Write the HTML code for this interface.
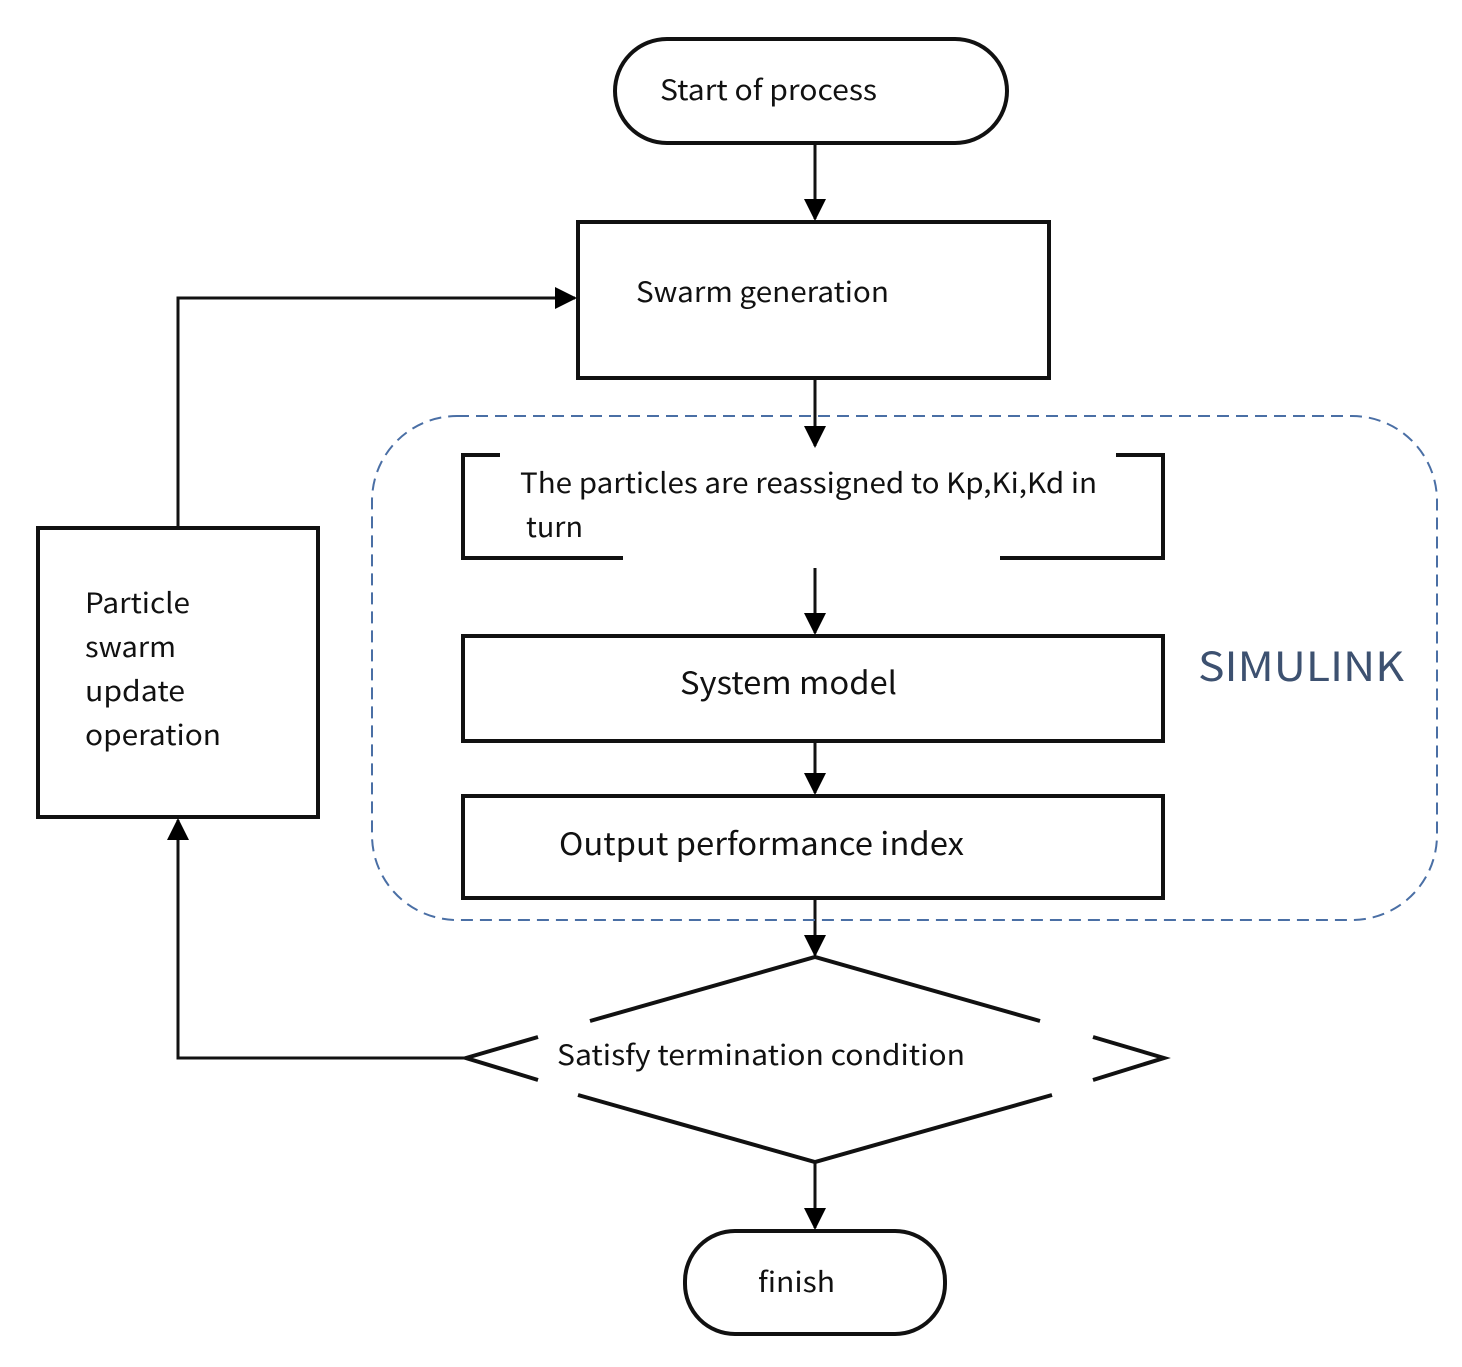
<!DOCTYPE html>
<html><head><meta charset="utf-8"><style>
html,body{margin:0;padding:0;background:#fff}
svg{display:block}
text{font-family:"Noto Sans CJK SC","Liberation Sans",sans-serif;fill:#111}
</style></head><body>
<svg width="1462" height="1367" viewBox="0 0 1462 1367" xmlns="http://www.w3.org/2000/svg">
<defs><marker id="a" markerWidth="12" markerHeight="12" refX="10" refY="6" orient="auto" markerUnits="userSpaceOnUse"><path d="M0,0 L12,6 L0,12 z" fill="#000"/></marker>
<marker id="b" markerWidth="22" markerHeight="24" refX="20" refY="11" orient="auto" markerUnits="userSpaceOnUse"><path d="M0,0 L22,11 L0,22 z" fill="#000"/></marker></defs>
<g fill="none" stroke="#111" stroke-width="4">
<rect x="615" y="39" width="392" height="104" rx="52"/>
<rect x="578" y="222" width="471" height="156"/>
<rect x="463" y="636" width="700" height="105"/>
<rect x="463" y="796" width="700" height="102"/>
<rect x="38" y="528" width="280" height="289"/>
<rect x="685" y="1231" width="260" height="103" rx="50"/>
<path d="M500,455 H463 V558 H623"/>
<path d="M1116,455 H1163 V558 H1000"/>
<path d="M590,1021 L815,957 L1040,1021"/>
<path d="M538,1037 L466,1058 L538,1080"/>
<path d="M1093,1037 L1164,1058 L1093,1080"/>
<path d="M578,1095 L815,1162 L1052,1095"/>
</g>
<g stroke="#111" stroke-width="3" fill="none">
<line x1="815" y1="143" x2="815" y2="219" marker-end="url(#b)"/>
<line x1="815" y1="378" x2="815" y2="446" marker-end="url(#b)"/>
<line x1="815" y1="568" x2="815" y2="633" marker-end="url(#b)"/>
<line x1="815" y1="741" x2="815" y2="793" marker-end="url(#b)"/>
<line x1="815" y1="898" x2="815" y2="955" marker-end="url(#b)"/>
<line x1="815" y1="1162" x2="815" y2="1228" marker-end="url(#b)"/>
<path d="M466,1058 H178 V820" marker-end="url(#b)"/>
<path d="M178,528 V298 H575" marker-end="url(#b)"/>
</g>
<rect x="372" y="416" width="1065" height="504" rx="85" fill="none" stroke="#4a6fa5" stroke-width="2" stroke-dasharray="12,7"/>
<g font-size="28">
<text x="660" y="100" textLength="217" lengthAdjust="spacingAndGlyphs">Start of process</text>
<text x="636" y="302" textLength="253" lengthAdjust="spacingAndGlyphs">Swarm generation</text>
<text x="520" y="493" textLength="577" lengthAdjust="spacingAndGlyphs">The particles are reassigned to Kp,Ki,Kd in</text>
<text x="526" y="537" textLength="57" lengthAdjust="spacingAndGlyphs">turn</text>
<text x="680" y="694" font-size="31" textLength="217" lengthAdjust="spacingAndGlyphs">System model</text>
<text x="559" y="855" font-size="31" textLength="405" lengthAdjust="spacingAndGlyphs">Output performance index</text>
<text x="557" y="1065" textLength="408" lengthAdjust="spacingAndGlyphs">Satisfy termination condition</text>
<text x="758" y="1292" textLength="77" lengthAdjust="spacingAndGlyphs">finish</text>
<text x="85" y="613" textLength="105" lengthAdjust="spacingAndGlyphs">Particle</text>
<text x="85" y="657" textLength="91" lengthAdjust="spacingAndGlyphs">swarm</text>
<text x="85" y="701" textLength="100" lengthAdjust="spacingAndGlyphs">update</text>
<text x="85" y="745" textLength="136" lengthAdjust="spacingAndGlyphs">operation</text>
<text x="1198" y="681" font-size="40" style="fill:#3d5170" textLength="206" lengthAdjust="spacingAndGlyphs">SIMULINK</text>
</g>
</svg>
</body></html>
